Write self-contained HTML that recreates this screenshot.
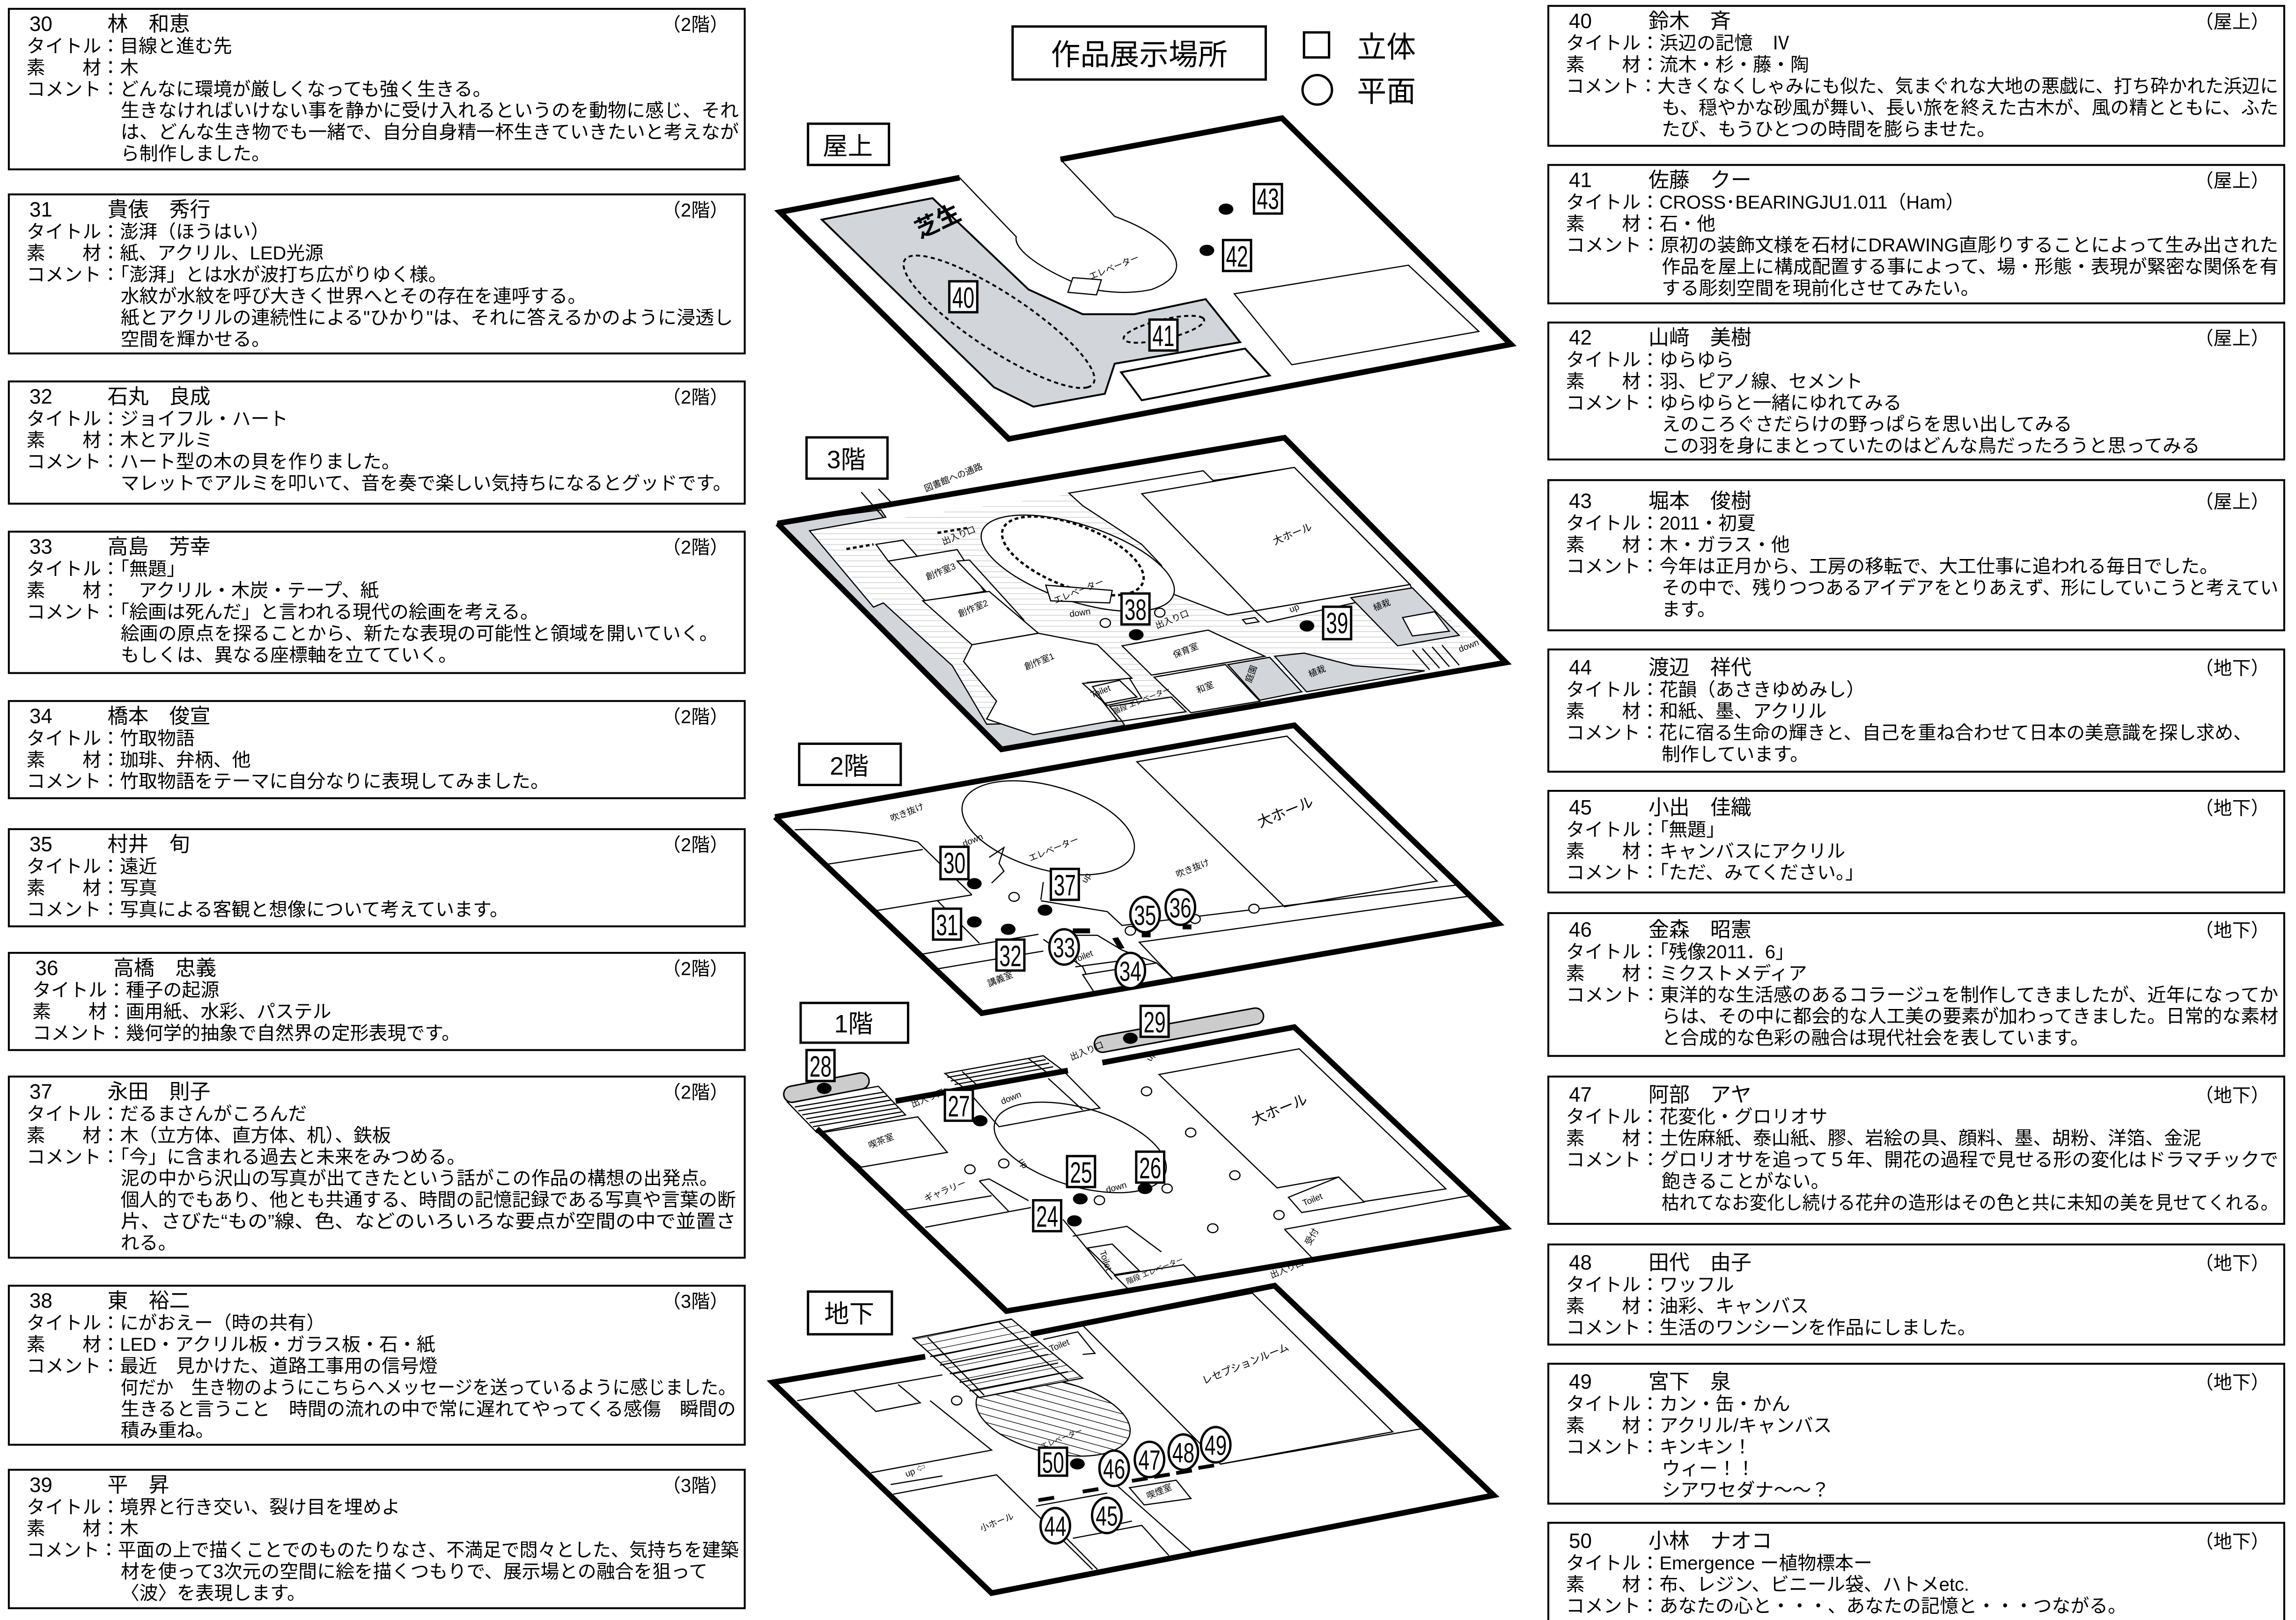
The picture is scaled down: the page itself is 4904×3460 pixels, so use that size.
<!DOCTYPE html>
<html><head><meta charset="utf-8">
<style>
html,body{margin:0;padding:0;background:#fff;}
svg{display:block;}
text{font-family:"Liberation Sans","Noto Sans CJK JP",sans-serif;fill:#000;}
.b{font-size:12.7px;}
.h{font-size:14px;}
.m *{vector-effect:non-scaling-stroke;}
.k{fill:none;stroke:#000;stroke-width:2.5;}
.w{fill:#fff;stroke:#000;stroke-width:2.5;}
.g{fill:#d2d5da;stroke:#000;stroke-width:2.5;}
.K{fill:none;stroke:#000;stroke-width:12;stroke-linejoin:miter;}
.nb rect{fill:#fff;stroke:#000;stroke-width:1.6;}
.nb text{font-size:20px;text-anchor:middle;}
.nc ellipse{fill:#fff;stroke:#000;stroke-width:1.6;}
.nc text{font-size:19px;text-anchor:middle;}
.s{font-size:6px;}
.lab{font-size:17px;text-anchor:middle;}
</style></head>
<body>
<svg width="4904" height="3460" viewBox="0 0 1560 1100" preserveAspectRatio="none" xmlns="http://www.w3.org/2000/svg">
<defs>
<pattern id="hz" patternUnits="userSpaceOnUse" width="20" height="26"><line x1="0" y1="1" x2="20" y2="1" stroke="#aaa" stroke-width="2"/></pattern>
<pattern id="hd" patternUnits="userSpaceOnUse" width="30" height="30" patternTransform="rotate(-25)"><line x1="0" y1="1" x2="30" y2="1" stroke="#000" stroke-width="3"/></pattern>
</defs>
<rect width="1560" height="1100" fill="#fff"/>

<g fill="none" stroke="#000" stroke-width="1.3">
<rect x="6" y="6" width="500" height="109"/>
<rect x="6" y="132" width="500" height="108"/>
<rect x="6" y="259" width="500" height="83"/>
<rect x="6" y="361" width="500" height="96"/>
<rect x="6" y="476" width="500" height="66"/>
<rect x="6" y="563" width="500" height="66"/>
<rect x="6" y="647" width="500" height="66"/>
<rect x="6" y="731" width="500" height="123"/>
<rect x="6" y="873" width="500" height="108"/>
<rect x="6" y="998" width="500" height="94"/>
<rect x="1052" y="4" width="500" height="95"/>
<rect x="1052" y="112" width="500" height="94"/>
<rect x="1052" y="219" width="500" height="93"/>
<rect x="1052" y="326" width="500" height="102"/>
<rect x="1052" y="441" width="500" height="83"/>
<rect x="1052" y="537" width="500" height="69"/>
<rect x="1052" y="620" width="500" height="97"/>
<rect x="1052" y="731" width="500" height="100"/>
<rect x="1052" y="845" width="500" height="68"/>
<rect x="1052" y="926" width="500" height="95"/>
<rect x="1052" y="1034" width="500" height="67"/>
</g>

<g class="b">
<text class="h" x="20" y="21">30</text><text class="h" x="73" y="21">林　和恵</text><text x="495" y="21" text-anchor="end">（2階）</text>
<text x="18" y="35.6">タイトル：目線と進む先</text>
<text x="18" y="50.2">素　　材：木</text>
<text x="18" y="64.8">コメント：どんなに環境が厳しくなっても強く生きる。</text>
<text x="82" y="79.4" textLength="420" lengthAdjust="spacingAndGlyphs">生きなければいけない事を静かに受け入れるというのを動物に感じ、それ</text>
<text x="82" y="94" textLength="420" lengthAdjust="spacingAndGlyphs">は、どんな生き物でも一緒で、自分自身精一杯生きていきたいと考えなが</text>
<text x="82" y="108.6">ら制作しました。</text>
<text class="h" x="20" y="147">31</text><text class="h" x="73" y="147">貴俵　秀行</text><text x="495" y="147" text-anchor="end">（2階）</text>
<text x="18" y="161.6">タイトル：澎湃（ほうはい）</text>
<text x="18" y="176.2">素　　材：紙、アクリル、LED光源</text>
<text x="18" y="190.8">コメント：「澎湃」とは水が波打ち広がりゆく様。</text>
<text x="82" y="205.4">水紋が水紋を呼び大きく世界へとその存在を連呼する。</text>
<text x="82" y="220" textLength="416" lengthAdjust="spacingAndGlyphs">紙とアクリルの連続性による"ひかり"は、それに答えるかのように浸透し</text>
<text x="82" y="234.6">空間を輝かせる。</text>
<text class="h" x="20" y="274">32</text><text class="h" x="73" y="274">石丸　良成</text><text x="495" y="274" text-anchor="end">（2階）</text>
<text x="18" y="288.6">タイトル：ジョイフル・ハート</text>
<text x="18" y="303.2">素　　材：木とアルミ</text>
<text x="18" y="317.8">コメント：ハート型の木の貝を作りました。</text>
<text x="82" y="332.4" textLength="415" lengthAdjust="spacingAndGlyphs">マレットでアルミを叩いて、音を奏で楽しい気持ちになるとグッドです。</text>
<text class="h" x="20" y="376">33</text><text class="h" x="73" y="376">高島　芳幸</text><text x="495" y="376" text-anchor="end">（2階）</text>
<text x="18" y="390.6">タイトル：「無題」</text>
<text x="18" y="405.2">素　　材：　アクリル・木炭・テープ、紙</text>
<text x="18" y="419.8">コメント：「絵画は死んだ」と言われる現代の絵画を考える。</text>
<text x="82" y="434.4">絵画の原点を探ることから、新たな表現の可能性と領域を開いていく。</text>
<text x="82" y="449">もしくは、異なる座標軸を立てていく。</text>
<text class="h" x="20" y="491">34</text><text class="h" x="73" y="491">橋本　俊宣</text><text x="495" y="491" text-anchor="end">（2階）</text>
<text x="18" y="505.6">タイトル：竹取物語</text>
<text x="18" y="520.2">素　　材：珈琲、弁柄、他</text>
<text x="18" y="534.8">コメント：竹取物語をテーマに自分なりに表現してみました。</text>
<text class="h" x="20" y="578">35</text><text class="h" x="73" y="578">村井　旬</text><text x="495" y="578" text-anchor="end">（2階）</text>
<text x="18" y="592.6">タイトル：遠近</text>
<text x="18" y="607.2">素　　材：写真</text>
<text x="18" y="621.8">コメント：写真による客観と想像について考えています。</text>
<text class="h" x="24" y="662">36</text><text class="h" x="77" y="662">高橋　忠義</text><text x="495" y="662" text-anchor="end">（2階）</text>
<text x="22" y="676.6">タイトル：種子の起源</text>
<text x="22" y="691.2">素　　材：画用紙、水彩、パステル</text>
<text x="22" y="705.8">コメント：幾何学的抽象で自然界の定形表現です。</text>
<text class="h" x="20" y="746">37</text><text class="h" x="73" y="746">永田　則子</text><text x="495" y="746" text-anchor="end">（2階）</text>
<text x="18" y="760.6">タイトル：だるまさんがころんだ</text>
<text x="18" y="775.2">素　　材：木（立方体、直方体、机）、鉄板</text>
<text x="18" y="789.8">コメント：「今」に含まれる過去と未来をみつめる。</text>
<text x="82" y="804.4">泥の中から沢山の写真が出てきたという話がこの作品の構想の出発点。</text>
<text x="82" y="819" textLength="418" lengthAdjust="spacingAndGlyphs">個人的でもあり、他とも共通する、時間の記憶記録である写真や言葉の断</text>
<text x="82" y="833.6" textLength="418" lengthAdjust="spacingAndGlyphs">片、さびた“もの”線、色、などのいろいろな要点が空間の中で並置さ</text>
<text x="82" y="848.2">れる。</text>
<text class="h" x="20" y="888">38</text><text class="h" x="73" y="888">東　裕二</text><text x="495" y="888" text-anchor="end">（3階）</text>
<text x="18" y="902.6">タイトル：にがおえー（時の共有）</text>
<text x="18" y="917.2">素　　材：LED・アクリル板・ガラス板・石・紙</text>
<text x="18" y="931.8">コメント：最近　見かけた、道路工事用の信号燈</text>
<text x="82" y="946.4" textLength="418" lengthAdjust="spacingAndGlyphs">何だか　生き物のようにこちらへメッセージを送っているように感じました。</text>
<text x="82" y="961" textLength="418" lengthAdjust="spacingAndGlyphs">生きると言うこと　時間の流れの中で常に遅れてやってくる感傷　瞬間の</text>
<text x="82" y="975.6">積み重ね。</text>
<text class="h" x="20" y="1013">39</text><text class="h" x="73" y="1013">平　昇</text><text x="495" y="1013" text-anchor="end">（3階）</text>
<text x="18" y="1027.6">タイトル：境界と行き交い、裂け目を埋めよ</text>
<text x="18" y="1042.2">素　　材：木</text>
<text x="18" y="1056.8" textLength="484" lengthAdjust="spacingAndGlyphs">コメント：平面の上で描くことでのものたりなさ、不満足で悶々とした、気持ちを建築</text>
<text x="82" y="1071.4">材を使って3次元の空間に絵を描くつもりで、展示場との融合を狙って</text>
<text x="82" y="1086">〈波〉を表現します。</text>

<text class="h" x="1066" y="19">40</text><text class="h" x="1120" y="19">鈴木　斉</text><text x="1542" y="19" text-anchor="end">（屋上）</text>
<text x="1064" y="33.6">タイトル：浜辺の記憶　Ⅳ</text>
<text x="1064" y="48.2">素　　材：流木・杉・藤・陶</text>
<text x="1064" y="62.8" textLength="484" lengthAdjust="spacingAndGlyphs">コメント：大きくなくしゃみにも似た、気まぐれな大地の悪戯に、打ち砕かれた浜辺に</text>
<text x="1129" y="77.4" textLength="419" lengthAdjust="spacingAndGlyphs">も、穏やかな砂風が舞い、長い旅を終えた古木が、風の精とともに、ふた</text>
<text x="1129" y="92">たび、もうひとつの時間を膨らませた。</text>
<text class="h" x="1066" y="127">41</text><text class="h" x="1120" y="127">佐藤　クー</text><text x="1542" y="127" text-anchor="end">（屋上）</text>
<text x="1064" y="141.6">タイトル：CROSS･BEARINGJU1.011（Ham）</text>
<text x="1064" y="156.2">素　　材：石・他</text>
<text x="1064" y="170.8" textLength="484" lengthAdjust="spacingAndGlyphs">コメント：原初の装飾文様を石材にDRAWING直彫りすることによって生み出された</text>
<text x="1129" y="185.4" textLength="419" lengthAdjust="spacingAndGlyphs">作品を屋上に構成配置する事によって、場・形態・表現が緊密な関係を有</text>
<text x="1129" y="200">する彫刻空間を現前化させてみたい。</text>
<text class="h" x="1066" y="234">42</text><text class="h" x="1120" y="234">山﨑　美樹</text><text x="1542" y="234" text-anchor="end">（屋上）</text>
<text x="1064" y="248.6">タイトル：ゆらゆら</text>
<text x="1064" y="263.2">素　　材：羽、ピアノ線、セメント</text>
<text x="1064" y="277.8">コメント：ゆらゆらと一緒にゆれてみる</text>
<text x="1129" y="292.4">えのころぐさだらけの野っぱらを思い出してみる</text>
<text x="1129" y="307">この羽を身にまとっていたのはどんな鳥だったろうと思ってみる</text>
<text class="h" x="1066" y="345">43</text><text class="h" x="1120" y="345">堀本　俊樹</text><text x="1542" y="345" text-anchor="end">（屋上）</text>
<text x="1064" y="359.6">タイトル：2011・初夏</text>
<text x="1064" y="374.2">素　　材：木・ガラス・他</text>
<text x="1064" y="388.8">コメント：今年は正月から、工房の移転で、大工仕事に追われる毎日でした。</text>
<text x="1129" y="403.4" textLength="419" lengthAdjust="spacingAndGlyphs">その中で、残りつつあるアイデアをとりあえず、形にしていこうと考えてい</text>
<text x="1129" y="418">ます。</text>
<text class="h" x="1066" y="458">44</text><text class="h" x="1120" y="458">渡辺　祥代</text><text x="1542" y="458" text-anchor="end">（地下）</text>
<text x="1064" y="472.6">タイトル：花韻（あさきゆめみし）</text>
<text x="1064" y="487.2">素　　材：和紙、墨、アクリル</text>
<text x="1064" y="501.8" textLength="466" lengthAdjust="spacingAndGlyphs">コメント：花に宿る生命の輝きと、自己を重ね合わせて日本の美意識を探し求め、</text>
<text x="1129" y="516.4">制作しています。</text>
<text class="h" x="1066" y="553">45</text><text class="h" x="1120" y="553">小出　佳織</text><text x="1542" y="553" text-anchor="end">（地下）</text>
<text x="1064" y="567.6">タイトル：「無題」</text>
<text x="1064" y="582.2">素　　材：キャンバスにアクリル</text>
<text x="1064" y="596.8">コメント：「ただ、みてください。」</text>
<text class="h" x="1066" y="636">46</text><text class="h" x="1120" y="636">金森　昭憲</text><text x="1542" y="636" text-anchor="end">（地下）</text>
<text x="1064" y="650.6">タイトル：「残像2011．6」</text>
<text x="1064" y="665.2">素　　材：ミクストメディア</text>
<text x="1064" y="679.8" textLength="484" lengthAdjust="spacingAndGlyphs">コメント：東洋的な生活感のあるコラージュを制作してきましたが、近年になってか</text>
<text x="1129" y="694.4" textLength="419" lengthAdjust="spacingAndGlyphs">らは、その中に都会的な人工美の要素が加わってきました。日常的な素材</text>
<text x="1129" y="709">と合成的な色彩の融合は現代社会を表しています。</text>
<text class="h" x="1066" y="748">47</text><text class="h" x="1120" y="748">阿部　アヤ</text><text x="1542" y="748" text-anchor="end">（地下）</text>
<text x="1064" y="762.6">タイトル：花変化・グロリオサ</text>
<text x="1064" y="777.2">素　　材：土佐麻紙、泰山紙、膠、岩絵の具、顔料、墨、胡粉、洋箔、金泥</text>
<text x="1064" y="791.8" textLength="484" lengthAdjust="spacingAndGlyphs">コメント：グロリオサを追って５年、開花の過程で見せる形の変化はドラマチックで</text>
<text x="1129" y="806.4">飽きることがない。</text>
<text x="1129" y="821" textLength="419" lengthAdjust="spacingAndGlyphs">枯れてなお変化し続ける花弁の造形はその色と共に未知の美を見せてくれる。</text>
<text class="h" x="1066" y="862">48</text><text class="h" x="1120" y="862">田代　由子</text><text x="1542" y="862" text-anchor="end">（地下）</text>
<text x="1064" y="876.6">タイトル：ワッフル</text>
<text x="1064" y="891.2">素　　材：油彩、キャンバス</text>
<text x="1064" y="905.8">コメント：生活のワンシーンを作品にしました。</text>
<text class="h" x="1066" y="943">49</text><text class="h" x="1120" y="943">宮下　泉</text><text x="1542" y="943" text-anchor="end">（地下）</text>
<text x="1064" y="957.6">タイトル：カン・缶・かん</text>
<text x="1064" y="972.2">素　　材：アクリル/キャンバス</text>
<text x="1064" y="986.8">コメント：キンキン！</text>
<text x="1129" y="1001.4">ウィー！！</text>
<text x="1129" y="1016">シアワセダナ～～？</text>
<text class="h" x="1066" y="1051">50</text><text class="h" x="1120" y="1051">小林　ナオコ</text><text x="1542" y="1051" text-anchor="end">（地下）</text>
<text x="1064" y="1065.6">タイトル：Emergence ー植物標本ー</text>
<text x="1064" y="1080.2">素　　材：布、レジン、ビニール袋、ハトメetc.</text>
<text x="1064" y="1094.8">コメント：あなたの心と・・・、あなたの記憶と・・・つながる。</text>
</g>

<rect x="688" y="18" width="172" height="36" fill="none" stroke="#000" stroke-width="1.6"/>
<text x="774" y="44" font-size="20" text-anchor="middle">作品展示場所</text>
<rect x="886" y="22" width="17" height="17" fill="none" stroke="#000" stroke-width="1.6"/>
<text x="922" y="39" font-size="20">立体</text>
<circle cx="895" cy="61" r="10" fill="none" stroke="#000" stroke-width="1.6"/>
<text x="922" y="69" font-size="20">平面</text>

<g fill="#fff" stroke="#000" stroke-width="1.6">
<rect x="549" y="84" width="55" height="28"/>
<rect x="548" y="297" width="55" height="28"/>
<rect x="543" y="505" width="69" height="28"/>
<rect x="544" y="681" width="73" height="27"/>
<rect x="549" y="877" width="57" height="29"/>
</g>
<text class="lab" x="576" y="105">屋上</text>
<text class="lab" x="575" y="318">3階</text>
<text class="lab" x="577" y="526">2階</text>
<text class="lab" x="580" y="701">1階</text>
<text class="lab" x="577" y="898">地下</text>

<g class="m" transform="matrix(0.3344 0 0 0.146 521.6 73.2)">
<polygon class="g" style="stroke-width:4" points="110,520 335,420 530,845 640,960 745,960 890,890 960,1090 705,1190 685,1330 540,1390 460,1300"/>
<path class="k" d="M595,240 L705,505 C820,600 880,760 780,845 C730,870 660,860 620,810 C540,730 500,650 505,600 L390,325"/>
<polyline class="K" points="390,325 25,485 490,1540 1510,1100 1045,48 595,240"/>
<ellipse cx="470" cy="995" rx="354" ry="85" transform="rotate(59.5 470 995)" fill="none" stroke="#000" stroke-width="4" stroke-dasharray="9 7"/>
<ellipse cx="805" cy="1030" rx="95" ry="40" transform="rotate(-34 805 1030)" fill="none" stroke="#000" stroke-width="4" stroke-dasharray="9 7"/>
<polygon class="w" style="stroke-width:4" points="718,1230 970,1120 1020,1245 760,1360"/>
<polygon class="w" points="948,865 1302,732 1445,1040 1065,1195"/>
<polygon class="w" points="620,790 678,800 668,870 610,858"/>
</g>
<text x="625" y="162" font-size="16" font-weight="bold" transform="rotate(-25 625 162)">芝生</text>
<text class="s" x="741" y="190" transform="rotate(-22 741 190)" font-size="4">エレベーター</text>

<g class="m" transform="matrix(0.3344 0 0 0.142 521.6 295.8)">
<polygon fill="url(#hz)" points="85,455 950,170 1440,965 1335,1125 720,1385 445,1380"/>
<polygon class="g" points="20,420 230,355 240,390 85,455 215,820 235,800 375,1100 445,1380 720,1365 725,1385 480,1500"/>
<polyline class="k" points="190,270 235,390"/><polyline class="k" points="225,255 255,330"/>
<polygon class="w" points="612,275 885,168 905,215 1070,152 1305,712 995,835 935,858 815,750 800,620 760,520 640,335"/>
<polygon class="w" points="760,278 1070,152 1305,712 990,838"/>
<polygon class="w" points="990,838 1305,712 1310,738 1015,892"/>
<polygon class="g" points="1185,775 1310,728 1405,955 1280,1005"/>
<polygon class="w" points="1290,870 1355,842 1385,935 1310,958"/>
<ellipse class="w" cx="630" cy="610" rx="268" ry="140" transform="rotate(53 630 610)"/>
<ellipse cx="620" cy="575" rx="212" ry="106" transform="rotate(58 620 575)" fill="none" stroke="#000" stroke-width="5" stroke-dasharray="8 6"/>
<polygon class="w" points="565,715 700,740 695,800 575,790"/>
<polygon class="w" points="220,520 275,500 305,580 245,600"/>
<polygon class="w" points="245,600 385,545 440,745 320,790"/>
<polygon class="w" points="385,600 410,595 520,880 500,885"/>
<polygon class="w" points="315,790 450,745 550,945 415,1000"/>
<polygon class="w" points="415,1000 550,945 670,1000 740,1160 650,1180 710,1360 540,1430 445,1355 465,1270 398,1080"/>
<polygon class="w" points="720,1005 895,930 1010,1055 780,1145"/>
<polygon class="w" points="785,1155 930,1095 1000,1270 860,1325"/>
<polygon class="g" points="935,1095 1020,1060 1085,1225 1000,1265"/>
<polygon class="g" points="1030,1055 1090,1040 1190,1100 1335,1125 1095,1225"/>
<polygon class="w" points="640,1185 735,1160 760,1255 690,1290"/>
<polygon class="w" points="660,1200 715,1170 750,1250 685,1280"/>
<polygon class="w" points="695,1295 820,1250 850,1320 720,1365"/>
<polygon class="w" points="965,880 990,870 998,890 972,900"/>
<g class="k"><line x1="1310" y1="1025" x2="1345" y2="1120"/><line x1="1330" y1="1018" x2="1365" y2="1112"/><line x1="1350" y1="1010" x2="1385" y2="1105"/><line x1="1370" y1="1002" x2="1405" y2="1098"/></g>
<g stroke="#000" stroke-width="5" stroke-dasharray="8 6"><line x1="160" y1="542" x2="215" y2="520"/><line x1="345" y1="465" x2="410" y2="440"/></g>
<polyline class="K" points="20,420 1050,10 1500,1085 475,1500 20,420"/>
</g>
<g class="s">
<text x="629" y="334" transform="rotate(-22 629 334)">図書館への通路</text>
<text x="866" y="370" transform="rotate(-22 866 370)" font-size="7">大ホール</text>
<text x="630" y="394" transform="rotate(-22 630 394)">創作室3</text>
<text x="652" y="419" transform="rotate(-22 652 419)">創作室2</text>
<text x="697" y="455" transform="rotate(-22 697 455)">創作室1</text>
<text x="798" y="447" transform="rotate(-22 798 447)">保育室</text>
<text x="814" y="471" transform="rotate(-22 814 471)">和室</text>
<text x="850" y="464" transform="rotate(-70 850 464)">庭園</text>
<text x="890" y="460" transform="rotate(-22 890 460)">植栽</text>
<text x="934" y="415" transform="rotate(-22 934 415)">植栽</text>
<text x="641" y="370" transform="rotate(-22 641 370)">出入り口</text>
<text x="786" y="427" transform="rotate(-22 786 427)">出入り口</text>
<text x="877" y="416" transform="rotate(-22 877 416)">up</text>
<text x="992" y="443" transform="rotate(-22 992 443)">down</text>
<text x="727" y="419" transform="rotate(-8 727 419)">down</text>
<text x="717" y="410" transform="rotate(-22 717 410)">エレベーター</text>
<text x="742" y="474" transform="rotate(-22 742 474)">Toilet</text>
<text x="757" y="485" transform="rotate(-22 757 485)" font-size="5">階段 エレベーター</text>
</g>

<g class="m" transform="matrix(0.3344 0 0 0.1339 521.6 489.8)">
<polygon class="w" points="750,205 1055,75 1360,810 1050,940"/>
<ellipse class="w" cx="570" cy="540" rx="255" ry="150" transform="rotate(64 570 540)"/>
<path class="k" d="M55,550 C150,540 250,580 305,612 L415,880"/>
<polyline class="k" points="120,725 315,650"/>
<polyline class="k" points="220,960 415,880"/>
<polyline class="k" points="345,910 430,1125"/>
<polyline class="k" points="315,1180 550,1080"/>
<polyline class="k" points="345,1255 560,1165"/>
<polyline class="k" points="555,910 690,965 720,1035 1400,830"/>
<polyline class="k" points="825,1305 755,1120 1430,885"/>
<polyline class="k" points="555,905 560,815"/>
<polyline class="k" points="560,1105 640,1245 665,1380"/>
<polyline class="k" points="610,1085 670,1085 720,1160 790,1225 825,1305"/>
<polygon class="w" points="640,1285 790,1225 825,1305 665,1380"/>
<polyline class="k" points="625,1245 715,1215"/>
<path class="k" d="M450,690 L480,640 L470,720 L480,760 L455,820"/>
<g fill="#000"><rect x="620" y="1050" width="35" height="25"/><rect x="760" y="1070" width="18" height="25"/><rect x="843" y="1030" width="18" height="25"/><polygon points="700,1100 712,1095 725,1150 713,1155"/></g>
<polyline class="K" points="15,485 1070,20 1485,1025 435,1480 15,485"/>
</g>
<g class="s">
<text x="606" y="558" transform="rotate(-22 606 558)">吹き抜け</text>
<text x="800" y="596" transform="rotate(-22 800 596)">吹き抜け</text>
<text x="856" y="562" transform="rotate(-22 856 562)" font-size="10">大ホール</text>
<text x="655" y="575" transform="rotate(-22 655 575)">down</text>
<text x="700" y="585" transform="rotate(-22 700 585)">エレベーター</text>
<text x="738" y="600" transform="rotate(-60 738 600)">up</text>
<text x="730" y="654" transform="rotate(-22 730 654)">Toilet</text>
<text x="672" y="670" transform="rotate(-22 672 670)">講義室</text>
</g>

<g class="m" transform="matrix(0.3344 0 0 0.1339 521.6 680.7)">
<polygon class="w" points="40,505 225,425 280,570 100,660"/>
<g class="k"><line x1="55" y1="530" x2="235" y2="455"/><line x1="62" y1="550" x2="242" y2="475"/><line x1="70" y1="570" x2="250" y2="495"/><line x1="78" y1="590" x2="258" y2="515"/><line x1="85" y1="610" x2="265" y2="535"/><line x1="92" y1="630" x2="272" y2="555"/></g>
<polygon class="w" points="360,360 560,270 600,345 400,435"/>
<g class="k"><line x1="365" y1="380" x2="565" y2="290"/><line x1="372" y1="398" x2="572" y2="308"/><line x1="380" y1="416" x2="580" y2="326"/><line x1="395" y1="350" x2="430" y2="430"/><line x1="530" y1="285" x2="570" y2="360"/></g>
<polygon class="w" points="400,430 600,345 675,535 470,630"/>
<polyline class="k" points="570,385 640,545"/>
<ellipse class="k" cx="635" cy="735" rx="250" ry="144" transform="rotate(61 635 735)"/>
<polygon class="w" points="795,365 1080,235 1378,945 1210,1010 1160,885 1035,940"/>
<polygon class="w" points="1058,988 1160,885 1212,1012 1085,1065"/>
<polyline class="k" points="1050,1150 1425,980"/>
<polyline class="k" points="1050,1150 1110,1305"/>
<polygon class="w" points="110,660 305,580 365,760 190,835"/>
<polyline class="k" points="275,1055 455,980"/>
<polyline class="k" points="320,1140 535,1040"/>
<polyline class="k" points="430,905 450,895 530,1005"/>
<polyline class="k" points="430,905 490,1060"/>
<polyline class="k" points="620,1185 730,1135 800,1265"/>
<polyline class="k" points="600,1100 700,1405"/>
<polygon class="w" points="650,1245 700,1225 755,1360 705,1380"/>
<polygon class="w" points="705,1385 845,1330 875,1405 735,1460"/>
<polyline class="K" points="610,345 260,500"/>
<polyline class="K" points="680,305 1070,125 1500,1140 485,1565 100,640"/>
</g>
<line x1="538" y1="743" x2="585" y2="734" stroke="#000" stroke-width="12" stroke-linecap="round"/>
<line x1="538" y1="743" x2="585" y2="734" stroke="#ccc" stroke-width="10" stroke-linecap="round"/>
<line x1="749" y1="709" x2="853" y2="690" stroke="#000" stroke-width="12" stroke-linecap="round"/>
<line x1="749" y1="709" x2="853" y2="690" stroke="#ccc" stroke-width="10" stroke-linecap="round"/>
<g class="s">
<text x="728" y="720" transform="rotate(-22 728 720)">出入り口</text>
<text x="620" y="752" transform="rotate(-22 620 752)">出入り口</text>
<text x="681" y="750" transform="rotate(-22 681 750)">down</text>
<text x="591" y="780" transform="rotate(-22 591 780)">喫茶室</text>
<text x="629" y="816" transform="rotate(-22 629 816)">ギャラリー</text>
<text x="852" y="764" transform="rotate(-22 852 764)" font-size="10">大ホール</text>
<text x="886" y="819" transform="rotate(-22 886 819)">Toilet</text>
<text x="890" y="846" transform="rotate(-60 890 846)">受付</text>
<text x="864" y="868" transform="rotate(-22 864 868)">出入り口</text>
<text x="747" y="850" transform="rotate(70 747 850)">Toilet</text>
<text x="766" y="872" transform="rotate(-22 766 872)" font-size="5">階段 エレベーター</text>
<text x="692" y="788" transform="rotate(60 692 788)">up</text>
<text x="752" y="810" transform="rotate(-15 752 810)">down</text>
<text x="782" y="721" transform="rotate(-60 782 721)">up</text>
</g>

<g class="m" transform="matrix(0.3344 0 0 0.146 521.6 871.5)">
<polygon class="w" points="640,195 985,45 1270,690 920,840"/>
<polyline class="k" points="920,840 1330,675"/>
<polyline class="k" points="560,260 630,225 665,325 640,330"/>
<polyline class="k" points="60,545 355,425"/>
<polyline class="k" points="175,500 220,595 310,555 265,470"/>
<polyline class="k" points="330,545 455,775 210,880"/>
<polyline class="k" points="250,935 355,895"/>
<polyline class="k" points="255,980 465,890 660,1330"/>
<polygon class="w" points="735,950 830,915 860,1000 765,1030"/>
<polyline class="k" points="545,1035 690,975"/>
<polyline class="k" points="605,1180 670,1330"/>
<polyline class="k" points="690,1130 740,1105"/>
<polyline class="k" points="620,1185 760,1125 815,1265"/>
<polyline class="k" points="700,920 860,1245"/>
<ellipse cx="580" cy="620" rx="200" ry="134" transform="rotate(57 580 620)" fill="url(#hd)" stroke="#000" stroke-width="2.5"/>
<polygon fill="#fff" stroke="#000" stroke-width="2.5" points="295,255 495,165 640,440 430,530"/>
<polygon fill="url(#hd)" points="295,255 495,165 640,440 430,530"/>
<g class="k"><line x1="330" y1="340" x2="530" y2="250"/><line x1="350" y1="380" x2="550" y2="290"/><line x1="370" y1="420" x2="570" y2="330"/><line x1="390" y1="460" x2="590" y2="370"/><line x1="410" y1="500" x2="610" y2="410"/><line x1="325" y1="250" x2="440" y2="520"/><line x1="470" y1="180" x2="610" y2="450"/></g>
<g stroke="#000" stroke-width="8"><line x1="550" y1="1008" x2="582" y2="996"/><line x1="640" y1="968" x2="672" y2="956"/><line x1="740" y1="918" x2="772" y2="906"/><line x1="785" y1="900" x2="817" y2="888"/><line x1="830" y1="882" x2="862" y2="870"/><line x1="875" y1="858" x2="907" y2="846"/></g>
<polyline class="K" points="320,340 10,460 455,1440 1475,985 1030,10 535,235"/>
</g>
<g class="s">
<text x="714" y="918" transform="rotate(-22 714 918)">Toilet</text>
<text x="818" y="940" transform="rotate(-22 818 940)" font-size="7">レセプションルーム</text>
<text x="667" y="1040" transform="rotate(-22 667 1040)">小ホール</text>
<text x="616" y="1003" transform="rotate(-22 616 1003)">up ⇦</text>
<text x="780" y="1018" transform="rotate(-22 780 1018)">喫煙室</text>
<text x="708" y="984" transform="rotate(-22 708 984)" font-size="5">エレベーター</text>
</g>

<g fill="#000">
<ellipse cx="833" cy="142" rx="5" ry="3.8"/><ellipse cx="820" cy="170" rx="5" ry="3.8"/>
<ellipse cx="772" cy="431" rx="5" ry="3.8"/><ellipse cx="888" cy="425" rx="5" ry="3.8"/>
<ellipse cx="662" cy="600" rx="5" ry="3.8"/><ellipse cx="710" cy="618" rx="5" ry="3.8"/><ellipse cx="662" cy="626" rx="5" ry="3.8"/><ellipse cx="685" cy="631" rx="5" ry="3.8"/>
<ellipse cx="560" cy="739" rx="5" ry="3.8"/><ellipse cx="768" cy="705" rx="5" ry="3.8"/><ellipse cx="666" cy="761" rx="5" ry="3.8"/><ellipse cx="778" cy="807" rx="5" ry="3.8"/><ellipse cx="734" cy="814" rx="5" ry="3.8"/><ellipse cx="730" cy="829" rx="5" ry="3.8"/>
<ellipse cx="732" cy="994" rx="5" ry="3.8"/>
</g>
<g fill="#fff" stroke="#000" stroke-width="0.8">
<ellipse cx="751" cy="423" rx="3.5" ry="3"/><ellipse cx="788" cy="416" rx="3.5" ry="3"/>
<ellipse cx="689" cy="609" rx="3.5" ry="3"/><ellipse cx="768" cy="632" rx="3.5" ry="3"/><ellipse cx="812" cy="624" rx="3.5" ry="3"/><ellipse cx="852" cy="617" rx="3.5" ry="3"/>
<ellipse cx="779" cy="741" rx="3.5" ry="3"/><ellipse cx="809" cy="769" rx="3.5" ry="3"/><ellipse cx="839" cy="798" rx="3.5" ry="3"/><ellipse cx="659" cy="794" rx="3.5" ry="3"/><ellipse cx="682" cy="790" rx="3.5" ry="3"/><ellipse cx="747" cy="815" rx="3.5" ry="3"/><ellipse cx="793" cy="807" rx="3.5" ry="3"/><ellipse cx="824" cy="834" rx="3.5" ry="3"/><ellipse cx="869" cy="825" rx="3.5" ry="3"/>
<ellipse cx="650" cy="951" rx="3.5" ry="3"/>
</g>

<g class="nb">
<rect x="645" y="191" width="19" height="21"/><text x="654.5" y="209" textLength="15" lengthAdjust="spacingAndGlyphs">40</text>
<rect x="781" y="217" width="19" height="21"/><text x="790.5" y="235" textLength="15" lengthAdjust="spacingAndGlyphs">41</text>
<rect x="831" y="163" width="19" height="21"/><text x="840.5" y="181" textLength="15" lengthAdjust="spacingAndGlyphs">42</text>
<rect x="852" y="125" width="19" height="20"/><text x="861.5" y="142" textLength="15" lengthAdjust="spacingAndGlyphs">43</text>
<rect x="762" y="403" width="19" height="21"/><text x="771.5" y="421" textLength="15" lengthAdjust="spacingAndGlyphs">38</text>
<rect x="899" y="412" width="19" height="22"/><text x="908.5" y="430" textLength="15" lengthAdjust="spacingAndGlyphs">39</text>
<rect x="639" y="575" width="19" height="22"/><text x="648.5" y="593" textLength="15" lengthAdjust="spacingAndGlyphs">30</text>
<rect x="634" y="617" width="19" height="21"/><text x="643.5" y="635" textLength="15" lengthAdjust="spacingAndGlyphs">31</text>
<rect x="677" y="638" width="19" height="21"/><text x="686.5" y="656" textLength="15" lengthAdjust="spacingAndGlyphs">32</text>
<rect x="714" y="590" width="19" height="21"/><text x="723.5" y="608" textLength="15" lengthAdjust="spacingAndGlyphs">37</text>
<rect x="548" y="713" width="19" height="21"/><text x="557.5" y="731" textLength="15" lengthAdjust="spacingAndGlyphs">28</text>
<rect x="775" y="683" width="19" height="21"/><text x="784.5" y="701" textLength="15" lengthAdjust="spacingAndGlyphs">29</text>
<rect x="642" y="740" width="19" height="21"/><text x="651.5" y="758" textLength="15" lengthAdjust="spacingAndGlyphs">27</text>
<rect x="725" y="785" width="19" height="21"/><text x="734.5" y="803" textLength="15" lengthAdjust="spacingAndGlyphs">25</text>
<rect x="772" y="782" width="19" height="21"/><text x="781.5" y="800" textLength="15" lengthAdjust="spacingAndGlyphs">26</text>
<rect x="702" y="815" width="19" height="21"/><text x="711.5" y="833" textLength="15" lengthAdjust="spacingAndGlyphs">24</text>
<rect x="706" y="983" width="19" height="19"/><text x="715.5" y="1000" textLength="15" lengthAdjust="spacingAndGlyphs">50</text>
</g>
<g class="nc">
<ellipse cx="723" cy="643" rx="10" ry="12"/><text x="723" y="650" textLength="15" lengthAdjust="spacingAndGlyphs">33</text>
<ellipse cx="768" cy="659" rx="10" ry="12"/><text x="768" y="666" textLength="15" lengthAdjust="spacingAndGlyphs">34</text>
<ellipse cx="778" cy="621" rx="10" ry="12"/><text x="778" y="628" textLength="15" lengthAdjust="spacingAndGlyphs">35</text>
<ellipse cx="802" cy="616" rx="10" ry="12"/><text x="802" y="623" textLength="15" lengthAdjust="spacingAndGlyphs">36</text>
<ellipse cx="757" cy="997" rx="10" ry="12"/><text x="757" y="1004" textLength="15" lengthAdjust="spacingAndGlyphs">46</text>
<ellipse cx="781" cy="991" rx="10" ry="12"/><text x="781" y="998" textLength="15" lengthAdjust="spacingAndGlyphs">47</text>
<ellipse cx="804" cy="986" rx="10" ry="12"/><text x="804" y="993" textLength="15" lengthAdjust="spacingAndGlyphs">48</text>
<ellipse cx="826" cy="981" rx="10" ry="12"/><text x="826" y="988" textLength="15" lengthAdjust="spacingAndGlyphs">49</text>
<ellipse cx="717" cy="1036" rx="10" ry="12"/><text x="717" y="1043" textLength="15" lengthAdjust="spacingAndGlyphs">44</text>
<ellipse cx="752" cy="1029" rx="10" ry="12"/><text x="752" y="1036" textLength="15" lengthAdjust="spacingAndGlyphs">45</text>
</g>
</svg>
</body></html>
